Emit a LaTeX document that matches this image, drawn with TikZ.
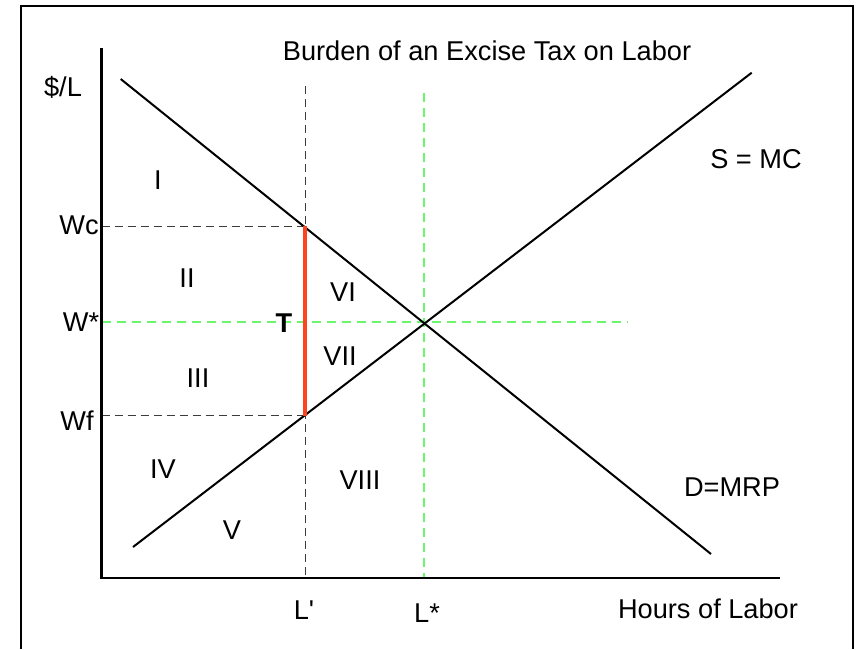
\documentclass[tikz,border=0pt]{standalone}
\usepackage{fontspec}
\setmainfont{Liberation Sans}
\definecolor{taxred}{RGB}{252,68,30}
\definecolor{eqgreen}{RGB}{110,245,110}
\definecolor{dashgray}{RGB}{60,60,60}
\begin{document}
\begin{tikzpicture}[x=1pt,y=-1pt,
  lbl/.style={inner sep=0pt,font=\fontsize{27.2}{27.2}\selectfont},
  axis/.style={line width=2.4pt,black},
  curve/.style={line width=2pt,black},
  guide/.style={line width=1pt,dashgray,dash pattern=on 8pt off 5pt},
  eqguide/.style={line width=2pt,eqgreen,dash pattern=on 9pt off 6pt},
  taxbar/.style={line width=4.5pt,taxred}]
\useasboundingbox (0,0) rectangle (858,649);
% frame
\draw[line width=2.2pt] (21,649) -- (21,6) -- (853,6) -- (853,649);
% coordinates
\coordinate (O) at (101.5,578);
\coordinate (Ytop) at (101.5,48);
\coordinate (Xend) at (780,578);
\coordinate (D1) at (120.7,79);
\coordinate (D2) at (711,554);
\coordinate (S1) at (133,547);
\coordinate (S2) at (751.7,72.7);
\coordinate (Wc) at (101.5,226);
\coordinate (Wf) at (101.5,415.7);
\coordinate (Ws) at (101.5,321.5);
\coordinate (WsEnd) at (628,321.5);
\coordinate (Ct) at (305,226);
\coordinate (Cb) at (305,415.7);
\coordinate (Ltop) at (305,86);
\coordinate (Lbot) at (305,578);
\coordinate (Lstop) at (423.5,93);
\coordinate (Lsbot) at (423.5,578);
% guides
\draw[guide] (Wc) -- (Ct);
\draw[guide] (Wf) -- (Cb);
\draw[guide] (Ltop) -- (Lbot);
\draw[eqguide] (Ws) -- (WsEnd);
\draw[eqguide] (Lstop) -- (Lsbot);
% axes
\draw[axis] (Ytop) -- (O) -- (Xend);
% curves
\draw[curve] (D1) -- (D2);
\draw[curve] (S1) -- (S2);
% tax wedge
\draw[taxbar] (Ct) -- (Cb);
% labels
\node[lbl] (title) at (487,51) {Burden of an Excise Tax on Labor};
\node[lbl] (ylab) at (63,87) {\$/L};
\node[lbl] (xlab) at (708,609) {Hours of Labor};
\node[lbl] (wc) at (79,225) {Wc};
\node[lbl] (ws) at (81,322) {W*};
\node[lbl] (wf) at (77,421) {Wf};
\node[lbl] (lp) at (304,610) {L\textquotesingle};
\node[lbl] (ls) at (427,613) {L*};
\node[lbl] (smc) at (756,159) {S = MC};
\node[lbl] (dmrp) at (732,487) {D=MRP};
\node[lbl] (rI) at (158,180) {I};
\node[lbl] (rII) at (187,278) {II};
\node[lbl] (rIII) at (198,378) {III};
\node[lbl] (rIV) at (163,469) {IV};
\node[lbl] (rV) at (232,530) {V};
\node[lbl] (rVI) at (343,292) {VI};
\node[lbl] (rVII) at (340,356) {VII};
\node[lbl] (rVIII) at (360,480) {VIII};
\node[lbl,font=\fontsize{27.2}{27.2}\selectfont\bfseries] (T) at (284,323) {T};
\end{tikzpicture}
\end{document}
